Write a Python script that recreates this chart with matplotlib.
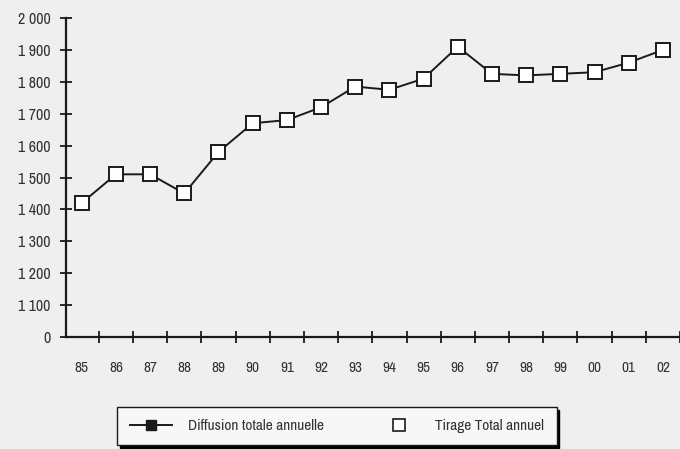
import matplotlib.pyplot as plt
from matplotlib.lines import Line2D
import numpy as np

# Années et tirage total annuel
annees = ['85', '86', '87', '88', '89', '90', '91', '92', '93', '94',
          '95', '96', '97', '98', '99', '00', '01', '02']
tirage = [1420, 1510, 1510, 1450, 1580, 1670, 1680, 1720, 1785, 1775,
          1810, 1910, 1825, 1820, 1825, 1830, 1860, 1900]

# Axe vertical coupé : "0" placé à la position de 1000
yticks = [1000, 1100, 1200, 1300, 1400, 1500, 1600, 1700, 1800, 1900, 2000]
ylabels = ['0', '1 100', '1 200', '1 300', '1 400', '1 500', '1 600',
           '1 700', '1 800', '1 900', '2 000']

plt.rcParams['font.family'] = ['Archivo Narrow', 'DejaVu Sans']
fond = '#efefef'
encre = '#1a1a1a'
texte = '#333333'

fig = plt.figure(figsize=(6.8, 4.49), dpi=100, facecolor=fond)
ax = fig.add_axes([66 / 680, 1 - 337 / 449, 1 - 66 / 680, 319 / 449])
ax.set_facecolor(fond)

x = np.arange(len(annees))
ax.plot(x, tirage, color=encre, lw=1.4, marker='s', ms=9.5,
        mfc='white', mec=encre, mew=1.4, clip_on=False, zorder=3)

ax.set_xlim(-0.46, 17.13)
ax.set_ylim(1000, 2000)
ax.set_yticks(yticks)
ax.set_yticklabels(ylabels)
ax.set_xticks(x)
ax.set_xticklabels(annees)
ax.set_xticks(np.arange(len(annees)) + 0.5, minor=True)

for s in ['top', 'right']:
    ax.spines[s].set_visible(False)
for s in ['left', 'bottom']:
    ax.spines[s].set_color(encre)
    ax.spines[s].set_linewidth(1.6)

ax.tick_params(axis='y', direction='inout', length=8, width=1.3,
               color=encre, labelsize=11.5, pad=7, labelcolor=texte)
ax.tick_params(axis='x', which='major', length=0, pad=17,
               labelsize=11, labelcolor=texte)
ax.tick_params(axis='x', which='minor', direction='inout', length=9,
               width=1.3, color=encre)

# Légende
h_diff = Line2D([], [], color=encre, lw=1.4, marker='s', ms=7,
                mfc=encre, mec=encre)
h_tir = Line2D([], [], ls='none', marker='s', ms=9, mfc='white',
               mec=encre, mew=1.2)
leg = fig.legend([h_diff, h_tir],
                 ['Diffusion totale annuelle', 'Tirage Total annuel'],
                 loc='center', bbox_to_anchor=(337 / 680, 1 - 426 / 449),
                 ncol=2, fontsize=11, frameon=True, fancybox=False,
                 edgecolor=encre, facecolor='#f7f7f7', framealpha=1,
                 shadow={'color': 'black', 'alpha': 1},
                 handlelength=2.8, columnspacing=3.5, borderpad=0.8,
                 borderaxespad=0, handletextpad=1.0)
leg.get_frame().set_linewidth(1.0)
for t in leg.get_texts():
    t.set_color(texte)

fig.savefig('out.png', dpi=100, facecolor=fond)
